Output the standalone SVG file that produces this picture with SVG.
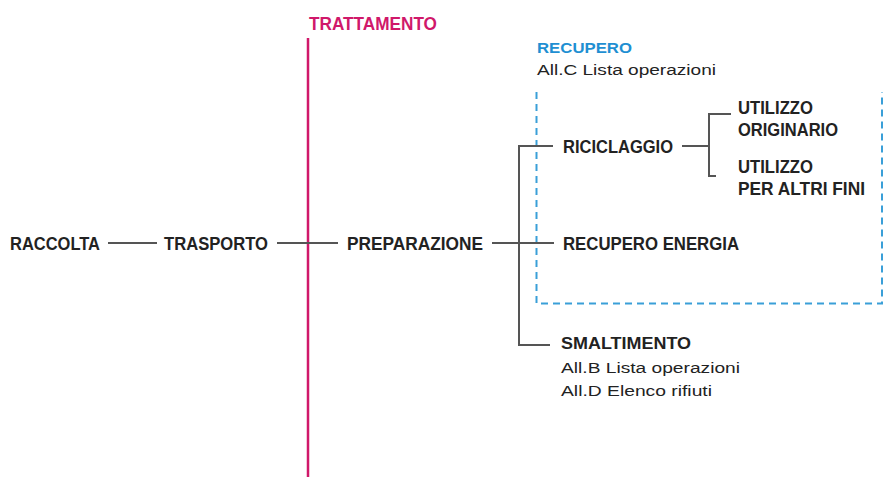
<svg xmlns="http://www.w3.org/2000/svg" width="891" height="477" viewBox="0 0 891 477">
<style>
.n{font-family:"Liberation Sans",Arial,sans-serif;font-size:17.5px;font-weight:bold;fill:#222}
.s{font-family:"Liberation Sans",Arial,sans-serif;font-size:15.5px;fill:#222}
.c{stroke:#555;stroke-width:2;fill:none}
</style>
<rect width="891" height="477" fill="#fff"/>
<g id="trattamento">
<text x="309" y="30" class="n" style="fill:#d0186a" textLength="128" lengthAdjust="spacingAndGlyphs">TRATTAMENTO</text>
<line x1="308" y1="38" x2="308" y2="477" stroke="#d0186a" stroke-width="2.5"/>
</g>
<g id="recupero">
<path d="M536.5 92 V303.5 H882 V92" fill="none" stroke="#3a9fd8" stroke-width="2" stroke-dasharray="7 5"/>
<text x="537" y="53" class="n" style="fill:#1f8fd2;font-size:15.5px" textLength="95" lengthAdjust="spacingAndGlyphs">RECUPERO</text>
<text x="537" y="74.5" class="s" textLength="179" lengthAdjust="spacingAndGlyphs">All.C Lista operazioni</text>
</g>
<g id="connectors">
<line class="c" x1="108" y1="243" x2="157" y2="243"/>
<line class="c" x1="277" y1="243" x2="338" y2="243"/>
<line class="c" x1="492" y1="243" x2="554" y2="243"/>
<path class="c" d="M553 146 H519 V345 H550"/>
<line class="c" x1="682" y1="146" x2="710" y2="146"/>
<path class="c" d="M731 114 H709 V176 H716"/>
</g>
<g id="raccolta"><text x="10" y="250" class="n" textLength="90" lengthAdjust="spacingAndGlyphs">RACCOLTA</text></g>
<g id="trasporto"><text x="164" y="250" class="n" textLength="104" lengthAdjust="spacingAndGlyphs">TRASPORTO</text></g>
<g id="preparazione"><text x="347" y="250" class="n" textLength="136" lengthAdjust="spacingAndGlyphs">PREPARAZIONE</text></g>
<g id="riciclaggio"><text x="563" y="152.5" class="n" textLength="110" lengthAdjust="spacingAndGlyphs">RICICLAGGIO</text></g>
<g id="utilizzo-originario">
<text x="738" y="114" class="n" textLength="75" lengthAdjust="spacingAndGlyphs">UTILIZZO</text>
<text x="738" y="136" class="n" textLength="100" lengthAdjust="spacingAndGlyphs">ORIGINARIO</text>
</g>
<g id="utilizzo-altri">
<text x="738" y="173" class="n" textLength="75" lengthAdjust="spacingAndGlyphs">UTILIZZO</text>
<text x="738" y="195" class="n" textLength="127" lengthAdjust="spacingAndGlyphs">PER ALTRI FINI</text>
</g>
<g id="recupero-energia"><text x="563" y="250" class="n" textLength="176" lengthAdjust="spacingAndGlyphs">RECUPERO ENERGIA</text></g>
<g id="smaltimento">
<text x="561" y="348.5" class="n" style="font-size:16.5px" textLength="130" lengthAdjust="spacingAndGlyphs">SMALTIMENTO</text>
<text x="561" y="373" class="s" textLength="179" lengthAdjust="spacingAndGlyphs">All.B Lista operazioni</text>
<text x="561" y="396" class="s" textLength="151" lengthAdjust="spacingAndGlyphs">All.D Elenco rifiuti</text>
</g>
</svg>
